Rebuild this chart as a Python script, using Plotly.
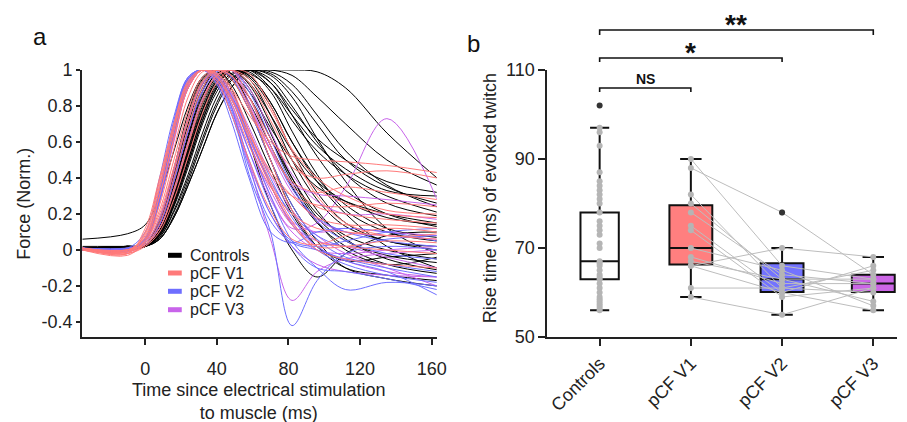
import plotly.graph_objects as go

# ---- panel a: normalised twitch traces (sampled at t_ms) ----
t_ms = [-35, -10, 0, 8, 16, 24, 32, 40, 48, 58, 70, 82, 96, 112, 135, 163]

controls_force = [
    [0.06, 0.09, 0.14, 0.3, 0.55, 0.8, 0.96, 1.0, 0.97, 0.85, 0.62, 0.4, 0.2, 0.08, 0.0, -0.05],
    [0.01, 0.02, 0.02, 0.08, 0.25, 0.48, 0.72, 0.9, 1.0, 1.0, 1.0, 1.0, 0.99, 0.9, 0.65, 0.4],
    [0.0, 0.01, 0.02, 0.06, 0.18, 0.36, 0.56, 0.76, 0.9, 1.0, 1.0, 0.97, 0.85, 0.7, 0.5, 0.36],
    [0.01, 0.01, 0.02, 0.1, 0.3, 0.55, 0.8, 0.95, 1.0, 0.98, 0.9, 0.75, 0.58, 0.45, 0.33, 0.3],
    [0.0, 0.02, 0.02, 0.12, 0.35, 0.63, 0.88, 1.0, 0.98, 0.88, 0.68, 0.5, 0.35, 0.27, 0.2, 0.15],
    [0.01, 0.0, 0.03, 0.17, 0.45, 0.76, 0.96, 1.0, 0.9, 0.6, 0.25, 0.0, -0.15, -0.02, 0.08, 0.1],
    [0.01, 0.02, 0.02, 0.08, 0.25, 0.48, 0.72, 0.9, 1.0, 0.97, 0.82, 0.6, 0.4, 0.25, 0.12, 0.07],
    [0.0, 0.01, 0.02, 0.06, 0.18, 0.36, 0.56, 0.76, 0.9, 1.0, 0.93, 0.75, 0.52, 0.33, 0.2, 0.13],
    [0.02, 0.02, 0.02, 0.1, 0.3, 0.56, 0.82, 0.97, 1.0, 0.92, 0.7, 0.45, 0.22, 0.06, -0.05, -0.11],
    [0.01, 0.01, 0.03, 0.15, 0.42, 0.72, 0.94, 1.0, 0.95, 0.78, 0.5, 0.25, 0.05, -0.1, -0.16, -0.2],
    [0.01, 0.02, 0.02, 0.09, 0.27, 0.5, 0.75, 0.92, 1.0, 1.0, 0.9, 0.72, 0.55, 0.42, 0.3, 0.21],
    [0.0, 0.02, 0.02, 0.07, 0.22, 0.42, 0.65, 0.85, 0.97, 1.0, 0.95, 0.8, 0.6, 0.42, 0.26, 0.19],
    [0.01, 0.01, 0.02, 0.11, 0.33, 0.6, 0.85, 0.98, 1.0, 0.9, 0.65, 0.4, 0.18, 0.05, -0.03, -0.07],
    [0.01, 0.02, 0.03, 0.13, 0.38, 0.67, 0.9, 1.0, 0.97, 0.82, 0.58, 0.35, 0.15, 0.02, -0.08, -0.13],
    [0.0, 0.01, 0.02, 0.08, 0.24, 0.46, 0.7, 0.88, 0.98, 1.0, 0.98, 0.88, 0.7, 0.5, 0.35, 0.26],
    [0.01, 0.02, 0.02, 0.1, 0.29, 0.54, 0.78, 0.94, 1.0, 0.96, 0.8, 0.55, 0.32, 0.15, 0.05, 0.02],
    [0.01, 0.01, 0.02, 0.09, 0.28, 0.52, 0.77, 0.93, 1.0, 0.99, 0.88, 0.66, 0.42, 0.22, 0.1, 0.05],
    [0.0, 0.02, 0.03, 0.14, 0.4, 0.7, 0.92, 1.0, 0.96, 0.85, 0.62, 0.38, 0.16, 0.0, -0.08, -0.04],
    [0.01, 0.01, 0.02, 0.07, 0.21, 0.4, 0.62, 0.82, 0.95, 1.0, 0.97, 0.85, 0.62, 0.38, 0.12, -0.02],
    [0.01, 0.02, 0.02, 0.12, 0.36, 0.64, 0.88, 1.0, 0.98, 0.8, 0.5, 0.22, 0.02, -0.1, -0.14, -0.17],
    [0.0, 0.01, 0.02, 0.1, 0.31, 0.57, 0.82, 0.96, 1.0, 0.95, 0.75, 0.5, 0.28, 0.13, 0.05, 0.0],
    [0.01, 0.02, 0.02, 0.08, 0.26, 0.5, 0.74, 0.91, 1.0, 1.0, 0.93, 0.78, 0.62, 0.5, 0.38, 0.32],
    [0.01, 0.01, 0.03, 0.11, 0.34, 0.62, 0.86, 0.98, 1.0, 0.93, 0.75, 0.55, 0.38, 0.27, 0.18, 0.14],
    [0.0, 0.02, 0.02, 0.09, 0.28, 0.53, 0.78, 0.94, 1.0, 0.97, 0.82, 0.6, 0.38, 0.2, 0.02, -0.1],
    [0.01, 0.01, 0.02, 0.06, 0.19, 0.38, 0.6, 0.8, 0.94, 1.0, 0.99, 0.92, 0.75, 0.55, 0.36, 0.24],
    [0.01, 0.02, 0.03, 0.15, 0.43, 0.73, 0.95, 1.0, 0.92, 0.72, 0.45, 0.2, 0.02, -0.06, -0.04, -0.02],
]

v1_force = [
    [0.01, -0.02, 0.12, 0.4, 0.7, 0.93, 1.0, 0.98, 0.9, 0.75, 0.6, 0.52, 0.5, 0.49, 0.47, 0.43],
    [0.0, -0.03, 0.05, 0.22, 0.5, 0.78, 0.96, 1.0, 0.97, 0.85, 0.62, 0.46, 0.4, 0.42, 0.44, 0.4],
    [0.01, 0.0, 0.06, 0.3, 0.62, 0.9, 1.0, 0.96, 0.82, 0.58, 0.35, 0.2, 0.12, 0.1, 0.08, 0.06],
    [0.01, -0.02, 0.03, 0.12, 0.32, 0.58, 0.82, 0.97, 1.0, 0.85, 0.58, 0.36, 0.24, 0.2, 0.17, 0.15],
    [0.0, 0.0, 0.08, 0.34, 0.66, 0.92, 1.0, 0.97, 0.85, 0.62, 0.36, 0.14, 0.02, 0.02, 0.05, 0.04],
    [0.01, -0.01, 0.03, 0.15, 0.4, 0.68, 0.9, 1.0, 1.0, 0.93, 0.72, 0.5, 0.34, 0.26, 0.2, 0.18],
    [0.01, -0.02, 0.1, 0.38, 0.7, 0.94, 1.0, 0.94, 0.76, 0.5, 0.22, 0.06, 0.03, 0.08, 0.12, 0.1],
    [0.0, 0.0, 0.03, 0.12, 0.34, 0.6, 0.84, 0.97, 1.0, 0.95, 0.78, 0.56, 0.4, 0.3, 0.22, 0.2],
    [0.01, -0.01, 0.05, 0.25, 0.56, 0.85, 0.99, 1.0, 0.9, 0.66, 0.38, 0.16, 0.0, -0.05, -0.08, -0.1],
    [0.01, 0.0, 0.07, 0.3, 0.62, 0.9, 1.0, 0.98, 0.88, 0.66, 0.42, 0.3, 0.25, 0.24, 0.26, 0.24],
    [0.0, -0.02, 0.02, 0.1, 0.28, 0.52, 0.76, 0.93, 1.0, 0.98, 0.8, 0.55, 0.3, 0.15, 0.08, 0.09],
    [0.01, -0.01, 0.05, 0.2, 0.46, 0.74, 0.94, 1.0, 0.95, 0.78, 0.55, 0.38, 0.32, 0.35, 0.32, 0.28],
    [0.01, 0.0, 0.04, 0.18, 0.44, 0.72, 0.93, 1.0, 0.97, 0.8, 0.5, 0.22, 0.05, 0.02, 0.0, -0.02],
    [0.0, -0.01, 0.09, 0.36, 0.68, 0.92, 1.0, 0.96, 0.84, 0.64, 0.44, 0.3, 0.18, 0.14, 0.14, 0.12],
]

v2_force = [
    [0.01, 0.0, 0.06, 0.32, 0.7, 0.95, 1.0, 0.97, 0.8, 0.42, 0.1, -0.42, -0.17, -0.02, 0.02, 0.0],
    [0.01, 0.0, 0.05, 0.3, 0.66, 0.93, 1.0, 0.97, 0.85, 0.6, 0.3, 0.05, -0.1, -0.22, -0.18, -0.2],
    [0.0, 0.01, 0.1, 0.4, 0.74, 0.96, 1.0, 0.92, 0.72, 0.4, 0.1, 0.04, 0.1, 0.12, 0.1, 0.05],
    [0.01, 0.0, 0.03, 0.14, 0.38, 0.66, 0.88, 0.99, 1.0, 0.85, 0.58, 0.34, 0.18, 0.1, 0.05, 0.02],
    [0.01, -0.01, 0.05, 0.28, 0.63, 0.92, 1.0, 0.96, 0.82, 0.55, 0.25, 0.02, -0.1, -0.12, -0.16, -0.22],
    [0.0, 0.0, 0.07, 0.34, 0.72, 0.96, 1.0, 0.94, 0.76, 0.46, 0.16, 0.04, 0.0, -0.05, -0.1, -0.15],
    [0.01, 0.01, 0.03, 0.12, 0.33, 0.6, 0.84, 0.97, 1.0, 0.88, 0.62, 0.36, 0.16, 0.05, -0.02, -0.05],
    [0.01, 0.0, 0.06, 0.3, 0.67, 0.94, 1.0, 0.96, 0.84, 0.62, 0.38, 0.2, 0.08, 0.02, 0.06, 0.08],
    [0.0, -0.01, 0.05, 0.27, 0.62, 0.9, 1.0, 0.98, 0.88, 0.66, 0.4, 0.18, 0.02, -0.06, -0.12, -0.25],
    [0.01, 0.0, 0.06, 0.31, 0.68, 0.95, 1.0, 0.95, 0.78, 0.5, 0.2, 0.05, 0.02, 0.05, 0.1, 0.12],
    [0.01, 0.01, 0.04, 0.18, 0.45, 0.73, 0.93, 1.0, 0.96, 0.78, 0.5, 0.25, 0.06, -0.04, -0.08, -0.12],
    [0.0, 0.0, 0.05, 0.29, 0.65, 0.93, 1.0, 0.97, 0.86, 0.64, 0.36, 0.14, 0.0, -0.08, -0.14, -0.18],
]

v3_force = [
    [0.01, 0.0, 0.05, 0.3, 0.66, 0.93, 1.0, 0.95, 0.8, 0.48, 0.06, -0.28, -0.12, -0.05, -0.02, 0.0],
    [0.01, 0.0, 0.04, 0.27, 0.62, 0.9, 1.0, 0.97, 0.85, 0.6, 0.3, 0.12, 0.15, 0.35, 0.73, 0.28],
    [0.01, 0.01, 0.05, 0.28, 0.64, 0.92, 1.0, 0.98, 0.87, 0.64, 0.36, 0.15, 0.02, -0.06, -0.12, -0.15],
    [0.0, 0.0, 0.06, 0.31, 0.68, 0.95, 1.0, 0.95, 0.8, 0.55, 0.28, 0.1, 0.0, -0.02, 0.0, 0.02],
    [0.01, -0.01, 0.03, 0.14, 0.38, 0.66, 0.88, 0.99, 1.0, 0.82, 0.55, 0.32, 0.17, 0.1, 0.08, 0.06],
    [0.01, 0.0, 0.05, 0.29, 0.65, 0.93, 1.0, 0.96, 0.84, 0.6, 0.33, 0.14, 0.05, 0.02, -0.04, -0.1],
    [0.0, 0.01, 0.05, 0.27, 0.6, 0.9, 1.0, 0.98, 0.88, 0.68, 0.42, 0.22, 0.08, -0.02, -0.1, -0.2],
    [0.01, 0.0, 0.06, 0.32, 0.7, 0.96, 1.0, 0.93, 0.76, 0.48, 0.2, 0.02, -0.08, -0.12, -0.14, -0.15],
    [0.01, 0.0, 0.03, 0.12, 0.33, 0.6, 0.84, 0.97, 1.0, 0.9, 0.66, 0.42, 0.27, 0.2, 0.2, 0.17],
    [0.0, -0.01, 0.05, 0.28, 0.63, 0.91, 1.0, 0.97, 0.86, 0.62, 0.36, 0.16, 0.1, 0.12, 0.1, 0.08],
    [0.01, 0.0, 0.04, 0.17, 0.43, 0.72, 0.92, 1.0, 0.97, 0.8, 0.56, 0.37, 0.31, 0.3, 0.28, 0.25],
]

# ---- panel b: rise time box plots ----
groups = ['Controls', 'pCF V1', 'pCF V2', 'pCF V3']
box_q1 = [63, 66.3, 60.1, 60.1]
box_median = [67, 70, 63, 62]
box_q3 = [78, 79.6, 66.6, 64]
box_low = [56, 59, 55, 56]
box_high = [97, 90, 70, 68]

controls_rise = [97, 96, 93, 87, 85, 84, 83, 82, 81, 80, 78, 76, 75, 74, 73, 71, 70,
                 67, 66.5, 66, 65, 64, 63.5, 63, 62, 61, 60, 59, 58.5, 58, 57.5, 57, 56.5, 56]
# same patients at the three visits
v1_rise = [90, 88, 82, 80, 78, 75, 74, 70, 68, 67, 66, 66, 61, 59]
v2_rise = [66, 78, 61, 63, 64, 60, 59, 65, 62, 63, 60, 70, 61, 55]
v3_rise = [63, 64, 65, 58, 62, 66, 61, 57, 62, 63, 56, 68, 60, 61]

outlier_group = ['Controls', 'pCF V2']
outlier_rise = [102, 78]

line_colors = ['#000000', '#FF7A7A', '#6E6EFF', '#C864EA']
box_colors = ['#FFFFFF', '#FF7F7F', '#7373FF', '#CC66E6']

FONT = 'Liberation Sans, Arial, sans-serif'

fig = go.Figure()

# Curvas do painel a
for curves, col in zip([controls_force, v3_force, v2_force, v1_force],
                       [line_colors[0], line_colors[3], line_colors[2], line_colors[1]]):
    for y in curves:
        fig.add_trace(go.Scatter(x=t_ms, y=y, mode='lines',
                                 line=dict(color=col, width=1, shape='spline', smoothing=1),
                                 showlegend=False, hoverinfo='skip',
                                 xaxis='x', yaxis='y'))

# Boxes do painel b
for i, g in enumerate(groups):
    fig.add_trace(go.Box(x=[g], q1=[box_q1[i]], median=[box_median[i]], q3=[box_q3[i]],
                         lowerfence=[box_low[i]], upperfence=[box_high[i]],
                         fillcolor=box_colors[i], line=dict(color='#111111', width=2),
                         width=0.42 if i == 0 else 0.47, whiskerwidth=0.5,
                         boxpoints=False, showlegend=False, hoverinfo='skip',
                         xaxis='x2', yaxis='y2'))

# linhas ligando os pacientes
for a, b, c in zip(v1_rise, v2_rise, v3_rise):
    fig.add_trace(go.Scatter(x=groups[1:], y=[a, b, c], mode='lines',
                             line=dict(color='#BDBDBD', width=1),
                             showlegend=False, hoverinfo='skip', xaxis='x2', yaxis='y2'))

# pontos individuais
for g, vals in zip(groups, [controls_rise, v1_rise, v2_rise, v3_rise]):
    fig.add_trace(go.Scatter(x=[g] * len(vals), y=vals, mode='markers',
                             marker=dict(color='#B5B5B5', size=6),
                             showlegend=False, hoverinfo='skip', xaxis='x2', yaxis='y2'))

fig.add_trace(go.Scatter(x=outlier_group, y=outlier_rise, mode='markers',
                         marker=dict(color='#333333', size=6),
                         showlegend=False, hoverinfo='skip', xaxis='x2', yaxis='y2'))

axis_common = dict(showline=True, linecolor='#222222', linewidth=1.8, ticks='outside',
                   tickcolor='#222222', tickwidth=1.5, showgrid=False, zeroline=False,
                   tickfont=dict(size=18, color='#222222'))

fig.update_layout(
    width=907, height=422,
    margin=dict(l=82, r=0, t=70, b=85),
    paper_bgcolor='white', plot_bgcolor='white',
    font=dict(family=FONT, color='#222222'),
    xaxis=dict(domain=[0, 0.4352], range=[-35.3, 162.8], tickvals=[0, 40, 80, 120, 160],
               ticklen=6, ticklabelstandoff=8, anchor='y', **axis_common),
    yaxis=dict(range=[-0.4833, 1.0], tickvals=[-0.4, -0.2, 0, 0.2, 0.4, 0.6, 0.8, 1],
               ticktext=['-0.4', '-0.2', '0', '0.2', '0.4', '0.6', '0.8', '1'],
               ticklen=4, anchor='x', **axis_common),
    xaxis2=dict(domain=[0.5709, 1], type='category', categoryorder='array', categoryarray=groups,
                range=[-0.574, 3.26], tickangle=-45, ticklen=7, anchor='y2', **axis_common),
    yaxis2=dict(range=[50, 110], tickvals=[50, 70, 90, 110], ticklen=7, anchor='x2',
                **axis_common),
)

# legenda manual do painel a
leg_y = [0.306, 0.2397, 0.1712, 0.1022]
for lab, col, yy in zip(groups, line_colors, leg_y):
    fig.add_shape(type='line', xref='paper', yref='paper', x0=0.1055, x1=0.1224, y0=yy, y1=yy,
                  line=dict(color=col, width=5))
    fig.add_annotation(text=lab, xref='paper', yref='paper', x=0.1297, y=yy,
                       xanchor='left', yanchor='middle', showarrow=False,
                       font=dict(size=16, color='#222222'))

# títulos dos eixos e rótulos dos painéis
def label(text, x, y, size=18, angle=0, color='#222222'):
    fig.add_annotation(text=text, xref='paper', yref='paper', x=x, y=y, textangle=angle,
                       xanchor='center', yanchor='middle', showarrow=False,
                       font=dict(size=size, color=color))

label('Force (Norm.)', -0.0715, 0.498, angle=-90)
label('Time since electrical stimulation<br>to muscle (ms)', 0.217, -0.2434, size=18)
label('Rise time (ms) of evoked twitch', 0.5006, 0.52, angle=-90)
label('a', -0.052, 1.127, size=24, color='#111111')
label('b', 0.48, 1.101, size=24, color='#111111')

# colchetes de significância
brackets = [(0, 1, 0.9326, 0.9176, 'NS', 0.968, 14),
            (0, 2, 1.045, 1.030, '*', 1.067, 28),
            (0, 3, 1.1498, 1.131, '**', 1.172, 28)]
for xa, xb, ytop, ytip, lab, ylab, fs in brackets:
    fig.add_shape(type='path', xref='x2', yref='paper',
                  path=f'M {xa},{ytip} L {xa},{ytop} L {xb},{ytop} L {xb},{ytip}',
                  line=dict(color='#111111', width=1.6))
    fig.add_annotation(text=f'<b>{lab}</b>', xref='x2', yref='paper', x=(xa + xb) / 2,
                       y=ylab, xanchor='center', yanchor='middle', showarrow=False,
                       font=dict(size=fs, color='#111111'))

# sem margem nem barras de rolagem, a figura ocupa a janela inteira
fig.write_html('out.html', config={'displayModeBar': False},
               post_script="document.body.style.margin='0';"
                           "document.body.style.overflow='hidden';"
                           "document.documentElement.style.overflow='hidden';")
